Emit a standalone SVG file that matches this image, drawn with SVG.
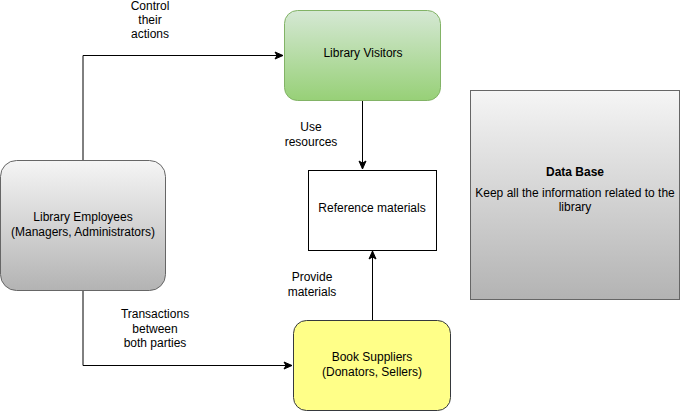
<svg xmlns="http://www.w3.org/2000/svg" width="681" height="411" viewBox="0 0 681 411">
<style>
text{font-family:"Liberation Sans",Arial,sans-serif;font-size:12px;fill:#000;text-anchor:middle}
.b{font-weight:bold}
.edge{fill:none;stroke:#000;stroke-width:1}
</style>
<defs>
<linearGradient id="gGreen" x1="0" y1="0" x2="0" y2="1"><stop offset="0" stop-color="#d5e8d4"/><stop offset="1" stop-color="#97d077"/></linearGradient>
<linearGradient id="gGray" x1="0" y1="0" x2="0" y2="1"><stop offset="0" stop-color="#f5f5f5"/><stop offset="1" stop-color="#b3b3b3"/></linearGradient>
<marker id="arr" viewBox="0 0 10 10" refX="9" refY="5" markerWidth="10" markerHeight="10" markerUnits="userSpaceOnUse" orient="auto">
<path d="M1,1.5 L9,5 L1,8.5 L3,5 Z" fill="#000" stroke="#000" stroke-width="1"/>
</marker>
</defs>
<rect width="681" height="411" fill="#fff"/>
<g id="connectors">
<path class="edge" d="M83,160 V55.5 H283" marker-end="url(#arr)"/>
<path class="edge" d="M362.5,100 V169" marker-end="url(#arr)"/>
<path class="edge" d="M83,290 V365.5 H292" marker-end="url(#arr)"/>
<path class="edge" d="M372.5,320 V251" marker-end="url(#arr)"/>
<text x="150" y="10">Control</text>
<text x="150" y="24">their</text>
<text x="150" y="38">actions</text>
<text x="311" y="131">Use</text>
<text x="311" y="146">resources</text>
<text x="312" y="281">Provide</text>
<text x="312" y="296">materials</text>
<text x="155" y="318">Transactions</text>
<text x="155" y="333">between</text>
<text x="155" y="347">both parties</text>
</g>
<g id="visitors">
<rect x="284.5" y="10.5" width="156" height="90" rx="13" fill="url(#gGreen)" stroke="#82b366"/>
<text x="363" y="57">Library Visitors</text>
</g>
<g id="employees">
<rect x="0.5" y="160.5" width="165" height="130" rx="16" fill="url(#gGray)" stroke="#666"/>
<text x="83" y="221">Library Employees</text>
<text x="83" y="236">(Managers, Administrators)</text>
</g>
<g id="reference">
<rect x="308.5" y="170.5" width="128" height="80" fill="#fff" stroke="#000"/>
<text x="372" y="212">Reference materials</text>
</g>
<g id="suppliers">
<rect x="293.5" y="320.5" width="157" height="90" rx="13" fill="#ffff88" stroke="#36393d"/>
<text x="372" y="361">Book Suppliers</text>
<text x="372" y="376">(Donators, Sellers)</text>
</g>
<g id="database">
<rect x="470.5" y="90.5" width="209" height="209" fill="url(#gGray)" stroke="#666"/>
<text class="b" x="575" y="176">Data Base</text>
<text x="575" y="197">Keep all the information related to the</text>
<text x="575" y="211">library</text>
</g>
</svg>
